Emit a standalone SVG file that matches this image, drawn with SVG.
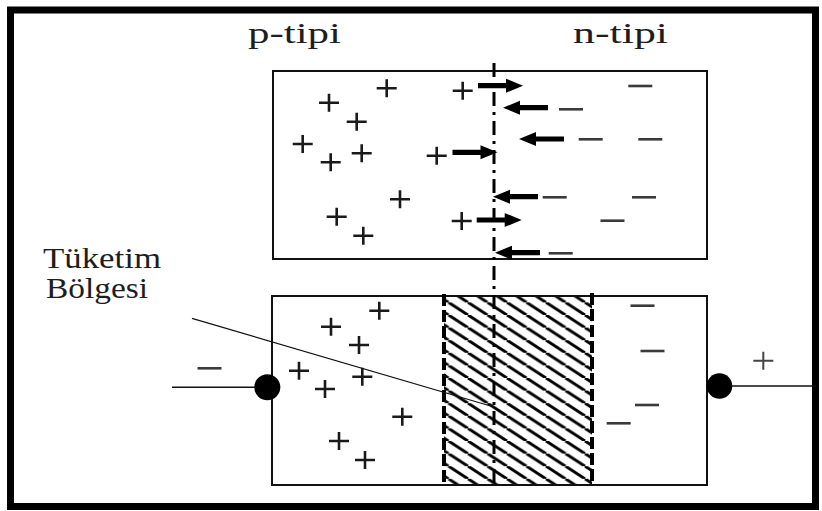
<svg xmlns="http://www.w3.org/2000/svg" width="822" height="511" viewBox="0 0 822 511">
<style>
.txt{font-family:"Liberation Serif","Times New Roman",serif;font-size:29px;fill:#1e1e1e}
.box{fill:none;stroke:#111;stroke-width:2}
.pl{stroke:#1a1a1a;stroke-width:2.6;fill:none}
.mi{stroke:#3a3a3a;stroke-width:2.6;fill:none}
.ar{fill:#000}
.wire{stroke:#111;stroke-width:1.5;fill:none}
.lead{stroke:#111;stroke-width:1.2;fill:none}
.center{stroke:#000;stroke-width:3;stroke-dasharray:14 6 3 6;fill:none}
.edge{stroke:#000;stroke-width:4;stroke-dasharray:12 4;fill:none}
.dot{fill:#000}
</style>
<defs>
<path id="plus" d="M-10,0 H10 M0,-9 V9"/>
<path id="minus" d="M-12,0 H12"/>
<path id="arrow" d="M0,-2.6 H28 V-7 L45,0 L28,7 V2.6 H0 Z"/>
<pattern id="hatch" patternUnits="userSpaceOnUse" width="19.5" height="12.6">
<path d="M-3,-1.94 L22.5,14.54 M-19.5,0 L0,12.6 M19.5,0 L39,12.6" stroke="#000" stroke-width="3" fill="none"/>
</pattern>
</defs>
<rect x="0" y="0" width="822" height="511" fill="#fff"/>
<rect id="frame" x="10.5" y="10" width="805" height="496.5" fill="none" stroke="#000" stroke-width="7"/>

<g id="label-p"><text class="txt" x="248" y="43" textLength="93" lengthAdjust="spacingAndGlyphs">p-tipi</text></g>
<g id="label-n"><text class="txt" x="573" y="43" textLength="95" lengthAdjust="spacingAndGlyphs">n-tipi</text></g>
<g id="label-tuketim">
<text class="txt" x="43" y="267.5" textLength="118" lengthAdjust="spacingAndGlyphs">Tüketim</text>
<text class="txt" x="46" y="298" textLength="102" lengthAdjust="spacingAndGlyphs">Bölgesi</text>
</g>

<g id="upper-junction">
<rect class="box" x="273" y="71" width="434" height="188"/>
<g class="pl">
<use href="#plus" x="386.7" y="88.3"/>
<use href="#plus" x="462.7" y="90.7"/>
<use href="#plus" x="329" y="102.7"/>
<use href="#plus" x="356.7" y="121.7"/>
<use href="#plus" x="302.7" y="144"/>
<use href="#plus" x="361.7" y="153.3"/>
<use href="#plus" x="330.7" y="162.3"/>
<use href="#plus" x="436.7" y="155.7"/>
<use href="#plus" x="400" y="199.3"/>
<use href="#plus" x="336.7" y="216.7"/>
<use href="#plus" x="461.7" y="221"/>
<use href="#plus" x="363.3" y="235.7"/>
</g>
<g class="mi">
<use href="#minus" x="640.3" y="86"/>
<use href="#minus" x="571" y="109.3"/>
<use href="#minus" x="590.7" y="139.3"/>
<use href="#minus" x="650.3" y="139.3"/>
<use href="#minus" x="554.7" y="197.3"/>
<use href="#minus" x="644" y="197.3"/>
<use href="#minus" x="612.5" y="220.7"/>
<use href="#minus" x="560.7" y="253.3"/>
</g>
<g class="ar">
<use href="#arrow" transform="translate(478,85.7)"/>
<use href="#arrow" transform="translate(548,107.7) scale(-1,1)"/>
<use href="#arrow" transform="translate(564,139) scale(-1,1)"/>
<use href="#arrow" transform="translate(452.5,152.3)"/>
<use href="#arrow" transform="translate(538,196.7) scale(-1,1)"/>
<use href="#arrow" transform="translate(476.7,220)"/>
<use href="#arrow" transform="translate(540,252.7) scale(-1,1)"/>
</g>
</g>

<g id="lower-junction">
<rect x="444" y="296" width="148" height="189" fill="url(#hatch)"/>
<rect class="box" x="272" y="296" width="435" height="189"/>
<g class="pl">
<use href="#plus" x="379.3" y="310.7"/>
<use href="#plus" x="331" y="326.7"/>
<use href="#plus" x="359" y="345"/>
<use href="#plus" x="299" y="370.7"/>
<use href="#plus" x="362.3" y="376.7"/>
<use href="#plus" x="325" y="389"/>
<use href="#plus" x="402.3" y="416.7"/>
<use href="#plus" x="339" y="441"/>
<use href="#plus" x="365" y="460"/>
</g>
<g class="mi">
<use href="#minus" x="642.5" y="305.7"/>
<use href="#minus" x="652.5" y="351"/>
<use href="#minus" x="647" y="405"/>
<use href="#minus" x="618.7" y="423.3"/>
</g>
</g>

<g id="depletion-region">
<line class="edge" x1="444" y1="294" x2="444" y2="485"/>
<line class="edge" x1="592" y1="293" x2="592" y2="485"/>
</g>

<g id="terminal-left">
<circle class="dot" cx="267.3" cy="387.3" r="13"/>
<use href="#minus" x="209.5" y="368.3" class="mi"/>
</g>
<g id="terminal-right">
<circle class="dot" cx="719.5" cy="386" r="12.8"/>
<use href="#plus" x="763.3" y="360.7" class="pl" style="stroke:#444;stroke-width:2"/>
</g>

<g id="connectors">
<line class="center" x1="494" y1="63" x2="494" y2="485"/>
<line class="wire" x1="172" y1="387.3" x2="256" y2="387.3"/>
<line class="wire" x1="731" y1="386" x2="816" y2="386"/>
<line class="lead" x1="192" y1="318.3" x2="494" y2="407"/>
</g>
</svg>
